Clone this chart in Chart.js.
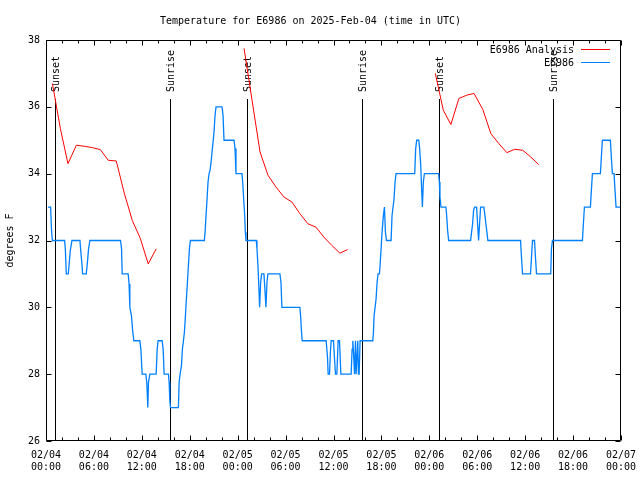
<!DOCTYPE html>
<html>
<head>
<meta charset="utf-8">
<script src="https://cdn.jsdelivr.net/npm/chart.js@4.4.1/dist/chart.umd.min.js"></script>
<style>
  body { margin: 0; background: #fff; }
  canvas { display: block; }
</style>
</head>
<body>
<canvas id="tempChart" width="640" height="480"></canvas>
<script>
// Observed temperature (hours since 02/04 00:00 UTC, degrees F)
const obsHours = [
  0.25, 0.58, 0.67, 0.79,
  2.33, 2.42, 2.54,
  2.79, 2.9, 3.04, 3.25,
  4.25, 4.33, 4.5, 4.58,
  5.04, 5.17, 5.33, 5.5,
  9.33, 9.46, 9.54,
  10.29, 10.4, 10.5, 10.7, 10.85, 11.0,
  11.75, 11.88, 12.04,
  12.5, 12.62, 12.75, 12.83, 13.0,
  13.79, 13.92, 14.04,
  14.54, 14.67, 14.79,
  15.33, 15.42, 15.5, 15.58,
  16.58, 16.67, 16.79, 16.96, 17.08, 17.21, 17.33, 17.46, 17.58, 17.71, 17.83, 17.96, 18.08,
  19.83, 19.92, 20.04, 20.17, 20.29, 20.42, 20.54, 20.67, 20.79, 20.92, 21.04, 21.17, 21.29,
  22.04, 22.17, 22.29,
  23.54, 23.67, 23.79,
  24.54, 24.63, 24.75, 24.88, 24.96, 25.04,
  26.33, 26.42, 26.54, 26.63, 26.75, 26.88, 27.0,
  27.29, 27.42, 27.54, 27.67, 27.79,
  29.29, 29.42, 29.54,
  31.79, 31.88, 32.0, 32.08,
  35.08, 35.25, 35.33, 35.5, 35.62, 35.71, 36.0, 36.12, 36.25, 36.42, 36.58, 36.75, 36.92,
  38.21, 38.33, 38.42, 38.54, 38.63, 38.75, 38.83, 38.92, 39.04, 39.12, 39.21, 39.33,
  40.92, 41.0, 41.08, 41.21, 41.33, 41.46, 41.58, 41.75, 41.83, 41.96, 42.08, 42.25, 42.38, 42.5, 42.63,
  43.21, 43.33, 43.46, 43.58, 43.71, 43.83,
  46.17, 46.29, 46.42, 46.67, 46.79, 46.92, 47.0, 47.13, 47.25, 47.38,
  49.17, 49.25, 49.33, 49.46,
  50.08, 50.17, 50.29, 50.42,
  53.17, 53.29, 53.42, 53.54, 53.67, 53.92, 54.04, 54.17, 54.29, 54.42, 54.83, 54.96, 55.08, 55.21, 55.33,
  59.42, 59.54, 59.67, 60.67, 60.79, 60.92, 61.17, 61.29, 61.42,
  63.2, 63.29, 63.42,
  67.17, 67.29, 67.42, 68.17, 68.29, 68.42, 69.42, 69.54, 69.67, 70.67, 70.79, 70.92, 71.13, 71.25, 71.38, 71.95
];
const obsTemps = [
  33, 33, 32.4, 32,
  32, 31.75, 31,
  31, 31.3, 31.7, 32,
  32, 31.75, 31.3, 31,
  31, 31.3, 31.75, 32,
  32, 31.75, 31,
  31, 30.7, 30, 29.75, 29.3, 29,
  29, 28.75, 28,
  28, 27.75, 27, 27.75, 28,
  28, 28.75, 29,
  29, 28.75, 28,
  28, 27.75, 27.25, 27,
  27, 27.75, 28, 28.25, 28.75, 29, 29.25, 29.75, 30.25, 30.75, 31.25, 31.75, 32,
  32, 32.25, 32.75, 33.25, 33.75, 34, 34.1, 34.35, 34.65, 34.95, 35.25, 35.75, 36,
  36, 35.75, 35,
  35, 34.75, 34,
  34, 33.75, 33.25, 32.75, 32.25, 32,
  32, 31.75, 31.25, 30.75, 30, 30.75, 31,
  31, 30.5, 30, 30.75, 31,
  31, 30.75, 30,
  30, 29.75, 29.25, 29,
  29, 28.5, 28, 28, 28.7, 29, 29, 28.5, 28, 28, 29, 29, 28,
  28, 28.75, 29, 28.5, 28, 29, 28, 28, 29, 28, 28, 29,
  29, 29.25, 29.75, 30, 30.25, 30.75, 31, 31, 31.25, 31.75, 32.25, 32.75, 33, 32.25, 32,
  32, 32.75, 33, 33.25, 33.75, 34,
  34, 34.75, 35, 35, 34.75, 34.25, 33.75, 33, 33.75, 34,
  34, 33.75, 33.3, 33,
  33, 32.75, 32.3, 32,
  32, 32.25, 32.5, 32.9, 33, 33, 32.5, 32, 32.5, 33, 33, 32.75, 32.5, 32.25, 32,
  32, 31.5, 31, 31, 31.5, 32, 32, 31.5, 31,
  31, 31.75, 32,
  32, 32.5, 33, 33, 33.5, 34, 34, 34.5, 35, 35, 34.5, 34, 34, 33.5, 33, 33
];

// Analysis runs (null marks the break between runs)
const anaHours = [
  0.8, 1.8, 2.75, 3.8, 4.8, 5.8, 6.8, 7.8, 8.8, 9.8, 10.8, 11.8, 12.8, 13.8, 14.3,
  24.8, 25.8, 26.8, 27.8, 28.8, 29.8, 30.8, 31.8, 32.8, 33.8, 34.8, 35.8, 36.8, 37.75, 38.3,
  48.75, 49.75, 50.7, 51.7, 52.7, 53.6, 54.7, 55.7, 56.7, 57.7, 58.7, 59.7, 60.7, 61.7
];
const anaTemps = [
  36.7, 35.35, 34.3, 34.85, 34.82, 34.78, 34.72, 34.4, 34.38, 33.42, 32.6, 32.07, 31.3, 31.75, null,
  37.75, 36.2, 34.65, 33.95, 33.6, 33.3, 33.15, 32.8, 32.5, 32.4, 32.1, 31.85, 31.62, 31.73, null,
  37.0, 35.9, 35.47, 36.25, 36.35, 36.4, 35.92, 35.2, 34.9, 34.63, 34.73, 34.7, 34.5, 34.27
];

const sunHours = [1.17, 15.57, 25.2, 39.6, 49.25, 63.5];
const sunLabels = ['Sunset', 'Sunrise', 'Sunset', 'Sunrise', 'Sunset', 'Sunrise'];

const xMin = 0, xMax = 72, xStep = 6, xMinorStep = 2;
const yMin = 26, yMax = 38, yStep = 2;
const startDay = 4;

const FONT = '"DejaVu Sans Mono", "Liberation Mono", monospace';

function tickLabel(v) {
  const day = startDay + Math.floor(v / 24);
  const hh = v % 24;
  return ['02/' + String(day).padStart(2, '0'), String(hh).padStart(2, '0') + ':00'];
}

const gnuplotLook = {
  id: 'gnuplotLook',
  beforeDatasetsDraw(chart) {
    const { ctx, chartArea: a, scales: { x } } = chart;
    ctx.save();
    ctx.strokeStyle = '#000';
    ctx.fillStyle = '#000';
    ctx.lineWidth = 1;
    ctx.font = '10px ' + FONT;
    sunHours.forEach((h, i) => {
      const px = Math.round(x.getPixelForValue(h)) + 0.5;
      ctx.beginPath();
      ctx.moveTo(px, a.bottom);
      ctx.lineTo(px, 99);
      ctx.stroke();
      ctx.save();
      ctx.translate(px + 1, 92);
      ctx.rotate(-Math.PI / 2);
      ctx.textAlign = 'left';
      ctx.textBaseline = 'middle';
      ctx.fillText(sunLabels[i], 0, 0);
      ctx.restore();
    });
    ctx.restore();
  },
  afterDatasetsDraw(chart) {
    const { ctx, chartArea: a, scales: { x, y } } = chart;
    ctx.save();
    ctx.strokeStyle = '#000';
    ctx.lineWidth = 1;
    const L = Math.round(a.left) + 0.5, R = Math.round(a.right) - 0.5;
    const T = Math.round(a.top) + 0.5, B = Math.round(a.bottom) - 0.5;
    ctx.beginPath();
    ctx.rect(L, T, R - L, B - T);
    // x ticks, major and minor, on bottom and top
    for (let v = xMin; v <= xMax; v += xMinorStep) {
      const px = Math.round(x.getPixelForValue(v)) + 0.5;
      const len = v % xStep === 0 ? 5 : 3;
      ctx.moveTo(px, B); ctx.lineTo(px, B - len);
      ctx.moveTo(px, T); ctx.lineTo(px, T + len);
    }
    for (let v = yMin; v <= yMax; v += yStep) {
      const py = Math.round(y.getPixelForValue(v)) + 0.5;
      ctx.moveTo(L, py); ctx.lineTo(L + 5, py);
      ctx.moveTo(R, py); ctx.lineTo(R - 5, py);
    }
    ctx.stroke();

    // key, gnuplot style: text then sample line
    ctx.font = '10px ' + FONT;
    ctx.textAlign = 'right';
    ctx.textBaseline = 'middle';
    chart.data.datasets.forEach((ds, i) => {
      const ry = 50 + i * 13;
      ctx.fillStyle = '#000';
      ctx.fillText(ds.label, 574, ry);
      ctx.strokeStyle = ds.borderColor;
      ctx.beginPath();
      ctx.moveTo(581, ry - 0.5);
      ctx.lineTo(610, ry - 0.5);
      ctx.stroke();
    });
    ctx.restore();
  }
};

const ctx = document.getElementById('tempChart').getContext('2d');
new Chart(ctx, {
  type: 'line',
  data: {
    datasets: [
      {
        label: 'E6986 Analysis',
        data: anaHours.map((h, i) => ({ x: h, y: anaTemps[i] })),
        borderColor: '#ff0000',
        borderWidth: 1,
        pointRadius: 0,
        tension: 0,
        spanGaps: false
      },
      {
        label: 'E6986',
        data: obsHours.map((h, i) => ({ x: h, y: obsTemps[i] })),
        borderColor: '#0080ff',
        borderWidth: 1.3,
        pointRadius: 0,
        tension: 0
      }
    ]
  },
  options: {
    responsive: false,
    animation: false,
    devicePixelRatio: 1,
    layout: { padding: { top: 0, right: 19, bottom: 0, left: 0 } },
    plugins: {
      legend: { display: false },
      tooltip: { enabled: false },
      title: {
        display: true,
        text: 'Temperature for E6986 on 2025-Feb-04 (time in UTC)',
        color: '#000',
        font: { family: FONT, size: 10, weight: 'normal' },
        padding: { top: 15, bottom: 13 }
      }
    },
    scales: {
      x: {
        type: 'linear',
        min: xMin,
        max: xMax,
        grid: { display: false, drawTicks: false },
        border: { display: false },
        afterFit: (s) => { s.height = 39; s.paddingLeft = 0; s.paddingRight = 0; },
        ticks: {
          stepSize: xStep,
          autoSkip: false,
          maxRotation: 0,
          padding: 8,
          color: '#000',
          font: { family: FONT, size: 10 },
          callback: (v) => tickLabel(v)
        }
      },
      y: {
        min: yMin,
        max: yMax,
        grid: { display: false, drawTicks: false },
        border: { display: false },
        afterFit: (s) => { s.width = 46; },
        title: {
          display: true,
          text: 'degrees F',
          color: '#000',
          font: { family: FONT, size: 10 },
          padding: { top: 4, bottom: 0 }
        },
        ticks: {
          stepSize: yStep,
          padding: 6,
          color: '#000',
          font: { family: FONT, size: 10 }
        }
      }
    }
  },
  plugins: [gnuplotLook]
});
</script>
</body>
</html>
